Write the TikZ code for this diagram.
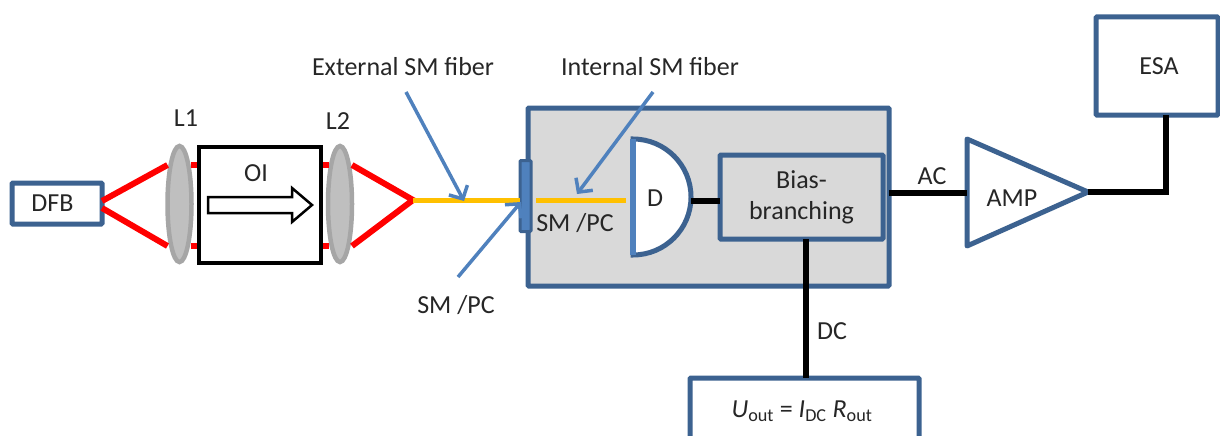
\documentclass[tikz,border=0pt]{standalone}
\usepackage{fontspec}
\setmainfont{Carlito}
\usetikzlibrary{positioning,arrows.meta,shapes.geometric}
\definecolor{edgeblue}{HTML}{3C6290}
\definecolor{tipblue}{HTML}{4F81BD}
\definecolor{fibergold}{HTML}{FFC000}
\begin{document}
\begin{tikzpicture}[
    x=1pt, y=-1pt,
    every node/.style={font=\fontsize{26}{30}\selectfont, text=black!85, inner sep=0pt, outer sep=0pt, align=center},
    box/.style={rectangle, draw=edgeblue, line width=5pt, fill=white, rounded corners=1pt, anchor=north west},
    lens/.style={ellipse, draw=black!35, line width=4.5pt, fill=black!25, minimum width=24pt, minimum height=116pt},
    beam/.style={red, line width=6pt},
    fiber/.style={fibergold, line width=5pt},
    wire/.style={black, line width=6pt},
    pointer/.style={-{Straight Barb[length=10pt,width=21pt]}, tipblue, line width=3.5pt}
]
\useasboundingbox (0,0) rectangle (1220,436);

% housing of the receiver
\node[box, fill=black!15, minimum width=361pt, minimum height=178pt] (housing) at (528,108) {};
\node[box, fill=none, minimum width=163pt, minimum height=84pt] (bias) at (720,155) {Bias-\\[1pt]branching};

% free space part
\node[box, minimum width=90pt, minimum height=41pt] (dfb) at (12,183) {DFB\hspace{9pt}};
\node[lens] (lenso) at (179.5,204) {};
\node[lens] (lenst) at (340,204) {};
\draw[beam] (dfb.east |- 0,201) -- ([shift={(-12,-39)}]lenso.center);
\draw[beam] (dfb.east |- 0,208) -- ([shift={(-12,42)}]lenso.center);
\coordinate (apex) at (413,200);
\draw[beam, line join=miter] ([shift={(12,-39)}]lenst.center) -- (apex) -- ([shift={(12,42)}]lenst.center);
\draw[beam] (191,165) -- (199,165);
\draw[beam] (191,246) -- (199,246);
\draw[beam] (321,165) -- (329,165);
\draw[beam] (321,246) -- (329,246);
\node[draw=black, line width=3.5pt, fill=white, minimum width=122pt, minimum height=116pt] (oi) at (260,205) {};
\node[anchor=base] (oilabel) at (256,181) {OI};
\node[anchor=base] (lo) at (186,126) {L1};
\node[anchor=base] (lt) at (338,129) {L2};
\draw[black, line width=2.5pt, fill=white] (208,197) -- (292,197) -- (292,188) -- (312,205) -- (292,222) -- (292,213) -- (208,213) -- cycle;

% fibers and connector
\node[draw=edgeblue, line width=3pt, fill=tipblue, rounded corners=1pt, minimum width=11pt, minimum height=71pt] (conn) at (525.5,196) {};
\coordinate (fibend) at (626,200);
\draw[fiber] (apex) -- (conn.west |- apex);
\draw[fiber] (536,200) -- (fibend);
\node[anchor=base] (smin) at (575,231) {SM /PC};

% detector
\coordinate (detup) at (633,139);
\coordinate (detdn) at (633,255);
\coordinate (detout) at (691,197);
\draw[edgeblue, line width=5pt, fill=white] (detup) arc[start angle=90, end angle=-90, x radius=58pt, y radius=58pt] -- cycle;
\draw[tipblue, line width=6pt] (detup) -- (detdn);
\node (det) at (655,198) {D};
\draw[wire] (detout |- 0,201) -- (bias.west |- 0,201);

% amplifier and analyser
\coordinate (ampin) at (967,193);
\coordinate (ampout) at (1088,192);
\draw[edgeblue, line width=5pt, line join=round, fill=white] (967,139) -- (ampout) -- (967,246) -- cycle;
\node (amp) at (1012,198) {AMP};
\node[box, minimum width=122pt, minimum height=98pt] (esa) at (1096,17) {\hspace{4pt}ESA};
\coordinate (bend) at (1166,192);
\draw[wire] (housing.east |- ampin) -- (ampin);
\draw[wire, line join=miter] (ampout) -- (bend) -- (esa.south -| bend);
\node[anchor=base] (ac) at (932,184) {AC};

% output of the dc branch
\node[box, minimum width=229pt, minimum height=80pt] (uout) at (690,378) {};
\node (formula) at (802,411) {\textit{U}\textsubscript{out} = \textit{I}\textsubscript{DC} \textit{R}\textsubscript{out}};
\draw[wire] (bias.south -| 806,0) -- (uout.north -| 806,0);
\node[anchor=base] (dc) at (832,339) {DC};

% pointers
\coordinate (exfrom) at (406,92);
\coordinate (exto) at (464,201);
\coordinate (infrom) at (653,92);
\coordinate (into) at (577,194);
\coordinate (smfrom) at (458,277);
\coordinate (smto) at (521,202);
\node[anchor=base] (exlabel) at (403,75) {External SM fiber};
\node[anchor=base] (inlabel) at (650,75) {Internal SM fiber};
\node[anchor=base] (smlabel) at (456,313) {SM /PC};
\draw[pointer] (exfrom) -- (exto);
\draw[pointer] (infrom) -- (into);
\draw[pointer] (smfrom) -- (smto);

\end{tikzpicture}
\end{document}
